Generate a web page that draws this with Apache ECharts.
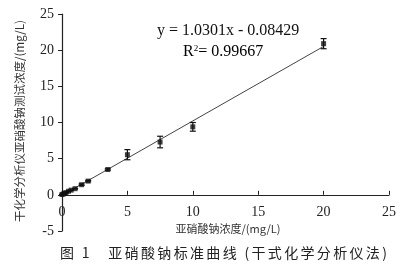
<!DOCTYPE html>
<html><head><meta charset="utf-8">
<script src="https://cdn.jsdelivr.net/npm/echarts@6/dist/echarts.min.js"></script>
<style>html,body{margin:0;padding:0;background:#fff}#c{width:416px;height:267px}</style>
</head><body><div id="c"></div>
<script>
// Data
const xVals = [0, 0.1, 0.2, 0.3, 0.5, 0.7, 1.0, 1.5, 2.0, 3.5, 5.0, 7.5, 10.0, 20.0];
const yVals = [0.05, 0.12, 0.2, 0.3, 0.5, 0.65, 0.85, 1.4, 1.9, 3.5, 5.55, 7.3, 9.4, 20.9];
const errVals = [0, 0, 0, 0, 0, 0, 0.05, 0.1, 0.1, 0.1, 0.7, 0.8, 0.6, 0.7];
const slope = 1.0301, intercept = -0.08429;
const fitRange = [0, 20];
const xTicks = [0, 5, 10, 15, 20, 25];
const yTicks = [-5, 0, 5, 10, 15, 20, 25];
const eqText = 'y = 1.0301x - 0.08429';
const r2Value = '0.99667';
const yName = '干化学分析仪亚硝酸钠测试浓度/(mg/L)';
const xName = '亚硝酸钠浓度/(mg/L)';
const caption = '图 1   亚硝酸钠标准曲线 (干式化学分析仪法)';

const serif = '"Liberation Serif","DejaVu Serif",serif';
const cjk = '"Noto Sans CJK SC","Noto Sans",sans-serif';

const W = 416, H = 267;
const G = {left: 62, right: 27, top: 14, bottom: 36};
const yMin = yTicks[0], yMax = yTicks[yTicks.length - 1];
const gridH = H - G.top - G.bottom;
// place the x axis (line, ticks and labels) at y = 0
const xAxisOffset = -gridH * (0 - yMin) / (yMax - yMin);

const pts = xVals.map((x, i) => [x, yVals[i]]);
const errData = xVals.map((x, i) => [x, yVals[i] - errVals[i], yVals[i] + errVals[i]]);
const fitData = fitRange.map(x => [x, slope * x + intercept]);
const spacedCaption = caption.split('').join('\u2006');

const chart = echarts.init(document.getElementById('c'));
chart.setOption({
  animation: false,
  backgroundColor: '#fff',
  grid: Object.assign({containLabel: false, outerBoundsMode: 'none'}, G),
  xAxis: {
    type: 'value', min: xTicks[0], max: xTicks[xTicks.length - 1], interval: 5,
    offset: xAxisOffset,
    axisLine: {onZero: false, lineStyle: {color: '#222', width: 1.2}},
    axisTick: {inside: true, length: 4, lineStyle: {color: '#222'}},
    axisLabel: {color: '#222', fontFamily: serif, fontSize: 14, margin: 10},
    splitLine: {show: false}
  },
  yAxis: {
    type: 'value', min: yMin, max: yMax, interval: 5,
    axisLine: {show: true, onZero: false, lineStyle: {color: '#222', width: 1.2}},
    axisTick: {show: true, length: 4, lineStyle: {color: '#222'}},
    axisLabel: {color: '#222', fontFamily: serif, fontSize: 14, margin: 8},
    splitLine: {show: false}
  },
  series: [
    {
      type: 'line', data: fitData, symbol: 'none',
      lineStyle: {color: '#444', width: 1}, z: 2
    },
    {
      type: 'custom', data: errData, z: 3,
      renderItem: function (params, api) {
        const x = api.value(0);
        const lo = api.coord([x, api.value(1)]);
        const hi = api.coord([x, api.value(2)]);
        const w = 3;
        const st = {stroke: '#111', lineWidth: 1.2};
        return {type: 'group', children: [
          {type: 'line', shape: {x1: lo[0], y1: lo[1], x2: hi[0], y2: hi[1]}, style: st},
          {type: 'line', shape: {x1: lo[0] - w, y1: lo[1], x2: lo[0] + w, y2: lo[1]}, style: st},
          {type: 'line', shape: {x1: hi[0] - w, y1: hi[1], x2: hi[0] + w, y2: hi[1]}, style: st}
        ]};
      }
    },
    {
      type: 'scatter', data: pts, symbol: 'rect', symbolSize: 5,
      itemStyle: {color: '#111'}, z: 4
    }
  ],
  graphic: [
    {type: 'text', left: 157, top: 23, style: {text: eqText, font: '16px ' + serif, fill: '#111'}},
    {type: 'text', left: 183, top: 44, style: {
      text: '{a|R}{s|2}{a|= ' + r2Value + '}',
      rich: {a: {fontFamily: serif, fontSize: 16, color: '#111'},
             s: {fontFamily: serif, fontSize: 9, verticalAlign: 'top', color: '#111', padding: [0, 0, 7, 0]}}
    }},
    {type: 'text', x: 20, y: 121, rotation: Math.PI / 2, style: {
      text: yName, font: '11.5px ' + cjk, fill: '#333', align: 'center', verticalAlign: 'middle'}},
    {type: 'text', x: 228, y: 229, style: {
      text: xName, font: '11px ' + cjk, fill: '#333', align: 'center', verticalAlign: 'middle'}},
    {type: 'text', x: 60, y: 253, style: {
      text: spacedCaption, font: '14px ' + cjk, fill: '#222', verticalAlign: 'middle'}}
  ]
});
</script></body></html>
